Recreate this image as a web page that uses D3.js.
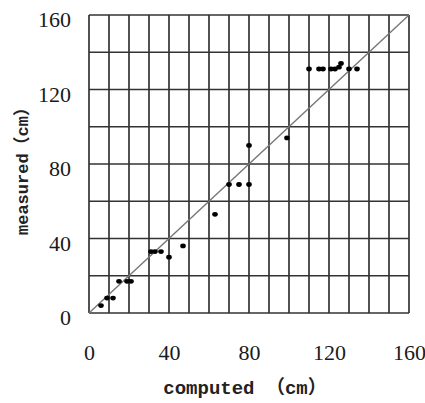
<!DOCTYPE html>
<html>
<head>
<meta charset="utf-8">
<script src="https://cdn.jsdelivr.net/npm/d3@7"></script>
<style>
  html, body { margin: 0; padding: 0; background: #fff; }
  svg { display: block; }
</style>
</head>
<body>
<div id="chart"></div>
<script>
// values (cm)
const computed = [6, 9, 12, 15, 19, 21, 31, 33, 36, 40, 47, 63, 70, 75, 80, 80, 99,
  110, 115, 117, 121, 123, 125, 126, 130, 134];
const measured = [4, 8, 8, 17, 17, 17, 33, 33, 33, 30, 36, 53, 69, 69, 69, 90, 94,
  131, 131, 131, 131, 131, 132, 134, 131, 131];
const xTicks = [0, 40, 80, 120, 160];
const yTicks = [0, 40, 80, 120, 160];
const xGrid = d3.range(0, 161, 10);
const yGrid = d3.range(0, 161, 20);

const width = 425, height = 403;
const plot = { left: 89, right: 409, top: 15, bottom: 313 };

const svg = d3.select("#chart").append("svg")
  .attr("width", width)
  .attr("height", height);

const x = d3.scaleLinear().domain([0, 160]).range([plot.left, plot.right]);
const y = d3.scaleLinear().domain([0, 160]).range([plot.bottom, plot.top]);

// ── grid ──
const grid = svg.append("g").attr("stroke", "#333").attr("stroke-width", 1.7);
grid.selectAll(".vx").data(xGrid).join("line")
  .attr("x1", d => x(d)).attr("x2", d => x(d))
  .attr("y1", y(0)).attr("y2", y(160));
grid.selectAll(".hy").data(yGrid).join("line")
  .attr("x1", x(0)).attr("x2", x(160))
  .attr("y1", d => y(d)).attr("y2", d => y(d));

// ── 1:1 line ──
svg.append("line")
  .attr("x1", x(0)).attr("y1", y(0))
  .attr("x2", x(160)).attr("y2", y(160))
  .attr("stroke", "#777")
  .attr("stroke-width", 1.4);

// ── axes (labels only) ──
const tickFont = "'Liberation Serif', 'DejaVu Serif', serif";
const xAxis = svg.append("g")
  .attr("transform", `translate(0,${plot.bottom + 47})`)
  .call(d3.axisBottom(x).tickValues(xTicks).tickSize(0).tickPadding(0));
const yAxis = svg.append("g")
  .attr("transform", `translate(${plot.left - 18},0)`)
  .call(d3.axisLeft(y).tickValues(yTicks).tickSize(0).tickPadding(0));
[xAxis, yAxis].forEach(g => {
  g.select(".domain").remove();
  g.selectAll("text")
    .attr("font-family", tickFont)
    .attr("font-size", 22)
    .attr("fill", "#1a1a1a");
});
xAxis.selectAll("text").attr("dy", 0);
yAxis.selectAll("text").attr("dy", 11.5);

// ── points ──
svg.append("g").selectAll("ellipse")
  .data(computed.map((c, i) => [c, measured[i]]))
  .join("ellipse")
  .attr("cx", d => x(d[0]))
  .attr("cy", d => y(d[1]))
  .attr("rx", 2.8)
  .attr("ry", 2.4)
  .attr("fill", "#000");

// ── axis titles ──
const titleFont = "'Liberation Mono', 'Noto Sans CJK SC', monospace";
svg.append("text")
  .attr("x", 245)
  .attr("y", 394)
  .attr("text-anchor", "middle")
  .attr("font-family", titleFont)
  .attr("font-size", 19)
  .attr("font-weight", "bold")
  .attr("fill", "#222")
  .text("computed （cm）");

svg.append("text")
  .attr("transform", "translate(28,167) rotate(-90)")
  .attr("text-anchor", "middle")
  .attr("font-family", titleFont)
  .attr("font-size", 17)
  .attr("font-weight", "bold")
  .attr("fill", "#222")
  .text("measured（cm）");
</script>
</body>
</html>
